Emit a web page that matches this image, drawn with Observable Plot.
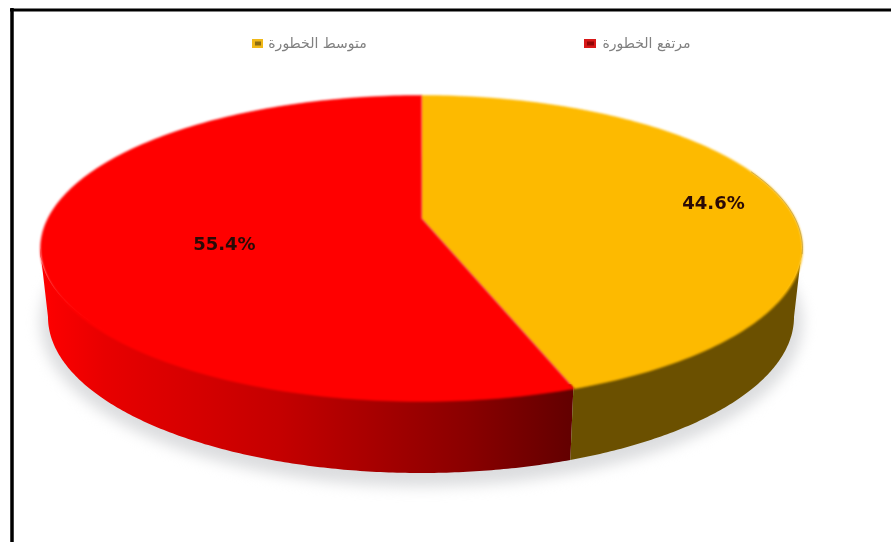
<!DOCTYPE html>
<html lang="ar">
<head>
<meta charset="utf-8">
<script src="https://cdn.jsdelivr.net/npm/d3@7"></script>
<script src="https://cdn.jsdelivr.net/npm/@observablehq/plot@0.6"></script>
<style>
  html, body { margin: 0; padding: 0; background: #fff; }
  svg { display: block; }
</style>
</head>
<body>
<div id="chart"></div>
<script>
// Risk shares, clockwise from twelve o'clock
const categories = ["متوسط الخطورة", "مرتفع الخطورة"];
const shares = [44.6, 55.4];
const shareLabels = ["44.6%", "55.4%"];

// Colours of each slice
const topColors = ["#fdba00", "#ff0000"];
const swatchColors = ["#f0b818", "#d81818"];
const swatchShade = ["#6b5410", "#7a0000"];

// Tilted disc: an ellipse for the rim, with the hub pushed back by perspective
const W = 891, H = 542;
const rim = {cx: 421, cy: 248, rx: 381, ry: 153};
const base = {cx: 421, cy: 317, rx: 373, ry: 156};
const hubY = 218;
const persp = -0.196;
const liftY = 104.4;
const spanX = rim.rx * Math.sqrt(1 - persp * persp);

// Disc coordinates (u right, v toward the viewer) to page coordinates
const project = (u, v) => {
  const d = 1 + persp * v;
  return {x: rim.cx + spanX * u / d, y: (hubY + liftY * v) / d};
};
const onDisc = (turn, r = 1) => {
  const a = turn * 2 * Math.PI;
  return project(r * Math.sin(a), -r * Math.cos(a));
};

// Label anchors on the disc
const labelU = [0.7975, -0.51];
const labelV = [-0.104, 0.171];

const total = d3.sum(shares);
const cuts = d3.cumsum(shares).map((s) => s / total);
const starts = [0, ...cuts.slice(0, -1)];

const wedge = (t0, t1) => {
  const n = Math.ceil((t1 - t0) * 360);
  const pts = [project(0, 0)];
  for (let i = 0; i <= n; i++) pts.push(onDisc(t0 + (t1 - t0) * i / n));
  pts.push(project(0, 0));
  return pts;
};

// Wall band for an angle range; its upper edge tucks under the rim so the
// softened top face fades into the wall colour instead of the page
const wallTuck = 5;
const wall = (a0, a1) => {
  const n = Math.ceil(Math.abs(a1 - a0) * 90);
  return d3.range(n + 1).map((i) => {
    const a = a0 + (a1 - a0) * i / n;
    return {
      x1: rim.cx + rim.rx * Math.cos(a), y1: rim.cy + (rim.ry - wallTuck) * Math.sin(a),
      x2: base.cx + base.rx * Math.cos(a), y2: base.cy + base.ry * Math.sin(a)
    };
  });
};

const seam = onDisc(cuts[0]);
const seamAngle = Math.atan2((seam.y - rim.cy) / rim.ry, (seam.x - rim.cx) / rim.rx);

const oval = (e, grow) => d3.range(0, 361, 2).map((deg) => ({
  x: e.cx + (e.rx + grow) * Math.cos(deg * Math.PI / 180),
  y: e.cy + 5 + (e.ry + grow) * Math.sin(deg * Math.PI / 180)
}));

const rimArc = d3.range(-30, 3, 1).map((deg) => ({
  x: rim.cx + rim.rx * Math.cos(deg * Math.PI / 180),
  y: rim.cy + rim.ry * Math.sin(deg * Math.PI / 180)
}));

const areaChannels = {x1: "x1", y1: "y1", x2: "x2", y2: "y2", stroke: "none"};

const labelRows = shareLabels.map((text, i) => ({text, ...project(labelU[i], labelV[i])}));

// Legend layout
const legendRows = [
  {name: categories[0], textX: 317, x1: 252, x2: 263, fill: swatchColors[0], shade: swatchShade[0]},
  {name: categories[1], textX: 646, x1: 584, x2: 596, fill: swatchColors[1], shade: swatchShade[1]}
];
const legendY = 43.5;

const wallGradient = () => {
  const ns = "http://www.w3.org/2000/svg";
  const defs = document.createElementNS(ns, "defs");
  const g = document.createElementNS(ns, "linearGradient");
  g.setAttribute("id", "redWall");
  g.setAttribute("gradientUnits", "userSpaceOnUse");
  g.setAttribute("x1", rim.cx - rim.rx);
  g.setAttribute("x2", seam.x);
  g.setAttribute("y1", 0);
  g.setAttribute("y2", 0);
  [[0, "#ff0000"], [0.12, "#e80000"], [0.45, "#c40000"], [0.8, "#8a0000"], [1, "#620000"]].forEach(([o, c]) => {
    const s = document.createElementNS(ns, "stop");
    s.setAttribute("offset", o);
    s.setAttribute("stop-color", c);
    g.appendChild(s);
  });
  defs.appendChild(g);
  return defs;
};

const chart = Plot.plot({
  width: W,
  height: H,
  margin: 0,
  x: {domain: [0, W], range: [0, W], axis: null},
  y: {domain: [0, H], range: [0, H], axis: null},
  marks: [
    wallGradient,
    // Soft drop shadow beneath the disc
    Plot.line(oval(base, 8), {x: "x", y: "y", fill: "#dcdddf", stroke: "none", imageFilter: "blur(7px)"}),
    // Outer wall
    Plot.area(wall(seamAngle, Math.PI), {...areaChannels, fill: "url(#redWall)", imageFilter: "blur(0.5px)"}),
    Plot.area(wall(0, seamAngle), {...areaChannels, fill: "#6b5000", imageFilter: "blur(0.5px)"}),
    // Top face
    ...shares.map((_, i) => Plot.line(wedge(starts[i], cuts[i]), {
      x: "x", y: "y", fill: topColors[i], stroke: topColors[i], strokeWidth: 0.5, imageFilter: "blur(1.2px)"
    })),
    Plot.line(rimArc, {x: "x", y: "y", stroke: "#6b5000", strokeWidth: 0.8, strokeOpacity: 0.4, imageFilter: "blur(0.7px)"}),
    // Value labels
    Plot.text(labelRows, {
      x: "x", y: "y", text: "text", fill: "#2a0a06",
      fontFamily: "DejaVu Sans", fontWeight: "bold", fontSize: 18, imageFilter: "blur(0.4px)"
    }),
    // Legend
    Plot.rect(legendRows, {x1: "x1", x2: "x2", y1: legendY - 4.5, y2: legendY + 4.5, fill: "fill", imageFilter: "blur(0.5px)"}),
    Plot.rect(legendRows, {x1: (d) => d.x1 + 3, x2: (d) => d.x2 - 2, y1: legendY - 2, y2: legendY + 2, fill: "shade", fillOpacity: 0.75, imageFilter: "blur(0.5px)"}),
    Plot.text(legendRows, {
      x: "textX", y: legendY, text: "name", fill: "#808080",
      fontFamily: "DejaVu Sans", fontSize: 14, imageFilter: "blur(0.5px)"
    }),
    // Picture frame along the top and left edges
    Plot.ruleY([9.5], {x1: 10, x2: W, stroke: "#000", strokeWidth: 3}),
    Plot.ruleX([11.5], {y1: 8, y2: H, stroke: "#000", strokeWidth: 3.5})
  ]
});

document.getElementById("chart").appendChild(chart);
</script>
</body>
</html>
